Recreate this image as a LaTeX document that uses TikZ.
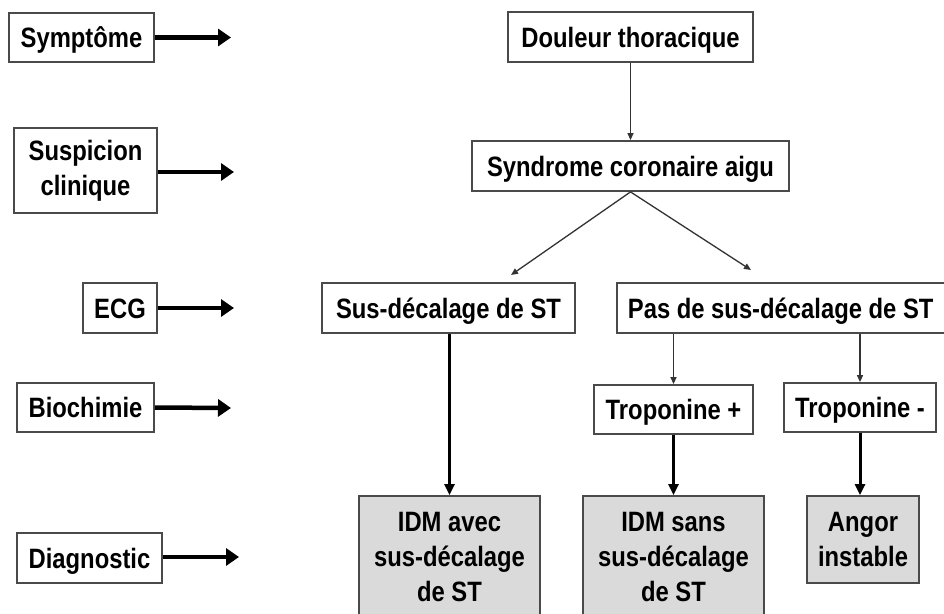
\documentclass[tikz,border=0pt]{standalone}
\usepackage{fontspec}
\setmainfont{Liberation Sans}[FakeStretch=0.85]
\usetikzlibrary{arrows.meta}
\definecolor{boxline}{HTML}{4A4A4A}
\definecolor{boxfill}{HTML}{DADADA}
\begin{document}
\begin{tikzpicture}[x=1pt,y=-1pt,
  every node/.style={font=\fontsize{28}{35}\selectfont\bfseries, align=center, inner sep=0pt},
  box/.style={draw=boxline, line width=1.8pt, fill=white, rectangle},
  oneline/.style={box, text height=20pt, text depth=0pt},
  result/.style={box, fill=boxfill},
  levelarrow/.style={line width=4.5pt, -{Triangle[length=13pt,width=17pt]}},
  thinarrow/.style={draw=black!80, line width=1.3pt, -{Triangle[length=7pt,width=6pt]}},
  thickarrow/.style={line width=3pt, -{Triangle[length=11pt,width=10pt]}}]
\useasboundingbox (0,0) rectangle (944,613);
\clip (0,0) rectangle (944,613);
\fill[white] (0,0) rectangle (944,613);

% level labels on the left
\node[oneline, minimum width=145pt, minimum height=49pt] (sym) at (81.5,37.5) {Symptôme};
\node[box, minimum width=143pt, minimum height=85pt] (susp) at (85.5,170.5) {Suspicion\\clinique};
\node[oneline, minimum width=74pt, minimum height=50pt] (ecg) at (120,308) {ECG};
\node[oneline, minimum width=137pt, minimum height=49pt] (bio) at (85.5,407.5) {Biochimie};
\node[oneline, minimum width=145pt, minimum height=50pt] (diag) at (89.5,558) {Diagnostic};

\coordinate (symE) at (231,37.5);
\coordinate (suspE) at (234,172);
\coordinate (ecgE) at (234,308);
\coordinate (bioE) at (231,408);
\coordinate (diagE) at (239,557);
\draw[levelarrow] (sym.east) -- (symE);
\draw[levelarrow] (susp.east |- suspE) -- (suspE);
\draw[levelarrow] (ecg.east) -- (ecgE);
\draw[levelarrow] (bio.east) -- (bioE);
\draw[levelarrow] (diag.east |- diagE) -- (diagE);

% decision tree
\node[oneline, minimum width=245pt, minimum height=50pt] (dt) at (630.5,37) {Douleur thoracique};
\node[oneline, minimum width=317pt, minimum height=50pt] (sca) at (630.5,166) {Syndrome coronaire aigu};
\node[oneline, minimum width=253pt, minimum height=50pt] (sus) at (448.5,308) {Sus-décalage de ST};
\node[oneline, anchor=west, inner xsep=11pt, minimum height=50pt] (pas) at (616,308) {\makebox[323pt][l]{Pas de sus-décalage de ST}};
\node[oneline, minimum width=159pt, minimum height=49pt] (tp) at (673.5,409.5) {Troponine +};
\node[oneline, minimum width=152pt, minimum height=49pt] (tm) at (860,407.5) {Troponine -};
\node[result, minimum width=181pt, minimum height=122pt] (idm1) at (449.5,557) {IDM avec\\sus-décalage\\de ST};
\node[result, minimum width=181pt, minimum height=122pt] (idm2) at (673.5,557) {IDM sans\\sus-décalage\\de ST};
\node[result, minimum width=112pt, minimum height=87pt] (ang) at (863,539.5) {Angor\\instable};

\draw[thinarrow] (dt.south) -- (sca.north);
\coordinate (scaL) at (511,275);
\coordinate (scaR) at (751,270);
\draw[thinarrow] (sca.south) -- (scaL);
\draw[thinarrow] (sca.south) -- (scaR);
\draw[thickarrow] (sus.south -| 449.5,0) -- (idm1.north -| 449.5,0);
\draw[thinarrow] (pas.south -| tp.north) -- (tp.north);
\draw[thinarrow] (pas.south -| tm.north) -- (tm.north);
\draw[thickarrow] (tp.south) -- (tp.south |- idm2.north);
\draw[thickarrow] (tm.south) -- (tm.south |- ang.north);
\end{tikzpicture}
\end{document}
